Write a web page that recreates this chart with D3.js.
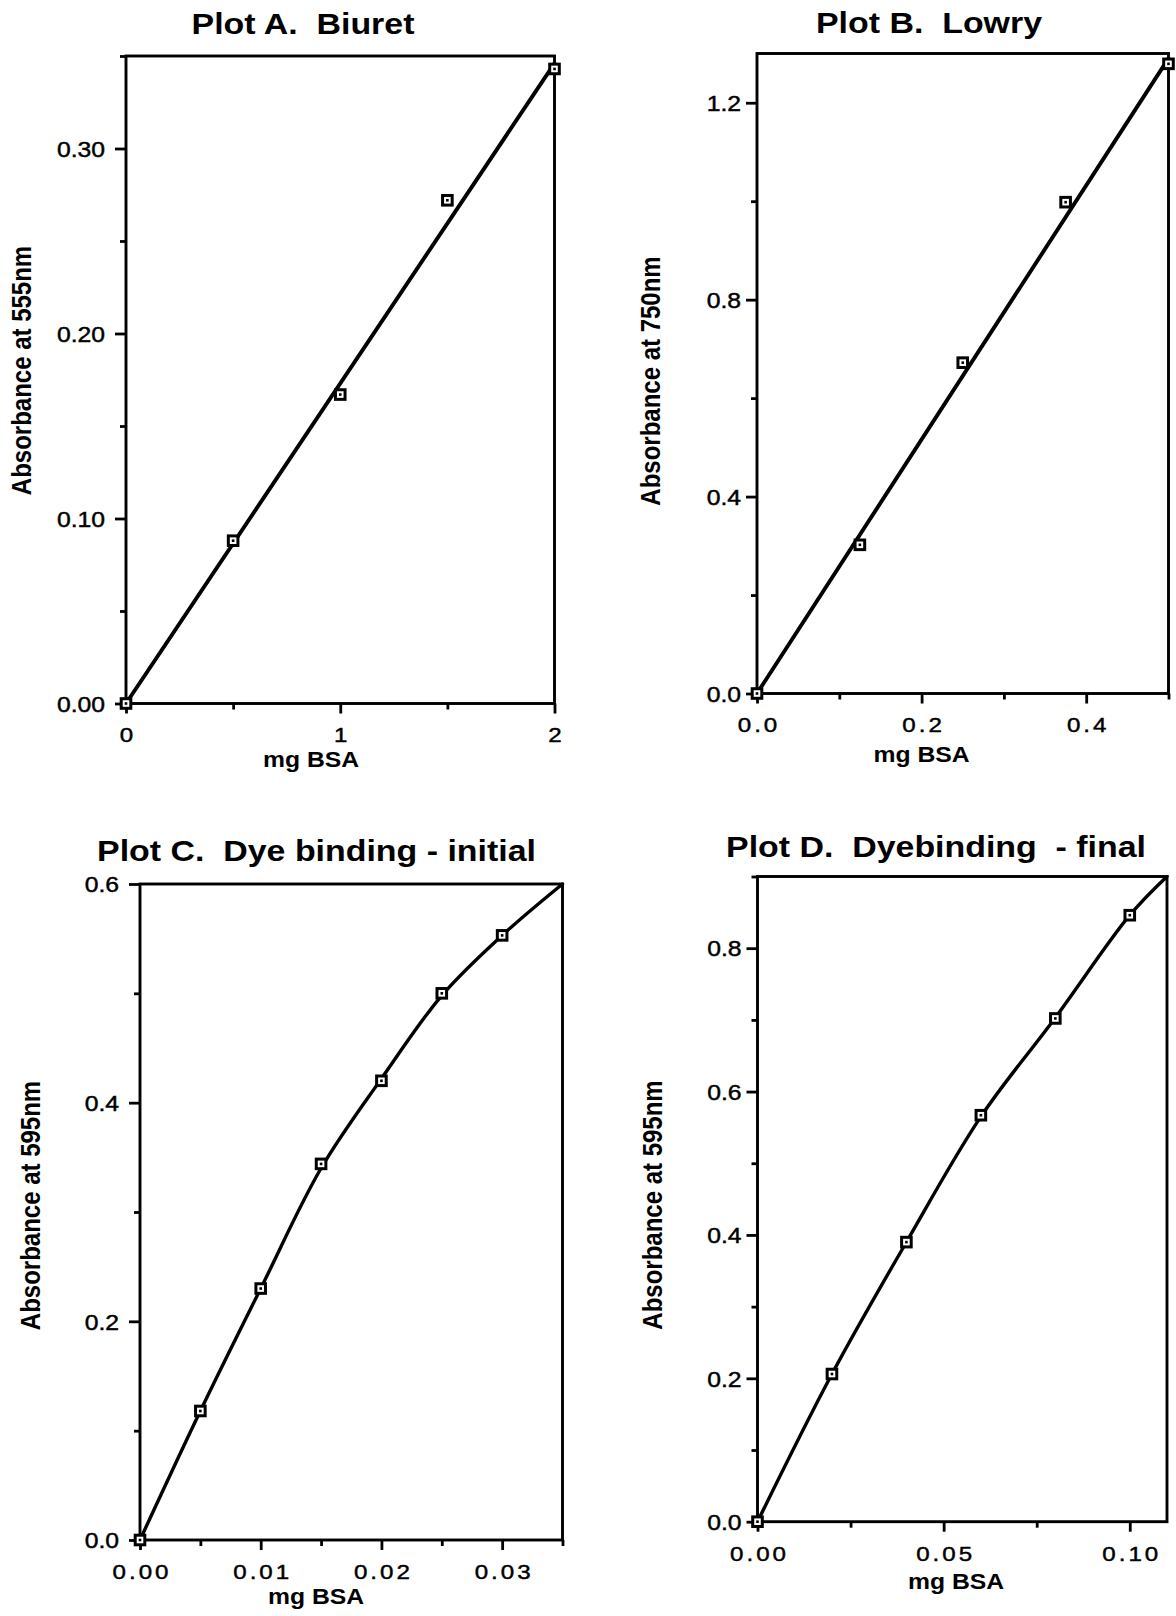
<!DOCTYPE html>
<html>
<head>
<meta charset="utf-8">
<script src="https://cdn.jsdelivr.net/npm/d3@7"></script>
<style>
  html, body { margin: 0; padding: 0; background: #fff; }
  svg { display: block; }
  text { font-family: "Liberation Sans", Arial, Helvetica, sans-serif; fill: #000; white-space: pre; }
  text.ink { stroke: #000; stroke-width: 0.45px; }
</style>
</head>
<body>
<svg id="fig" width="1176" height="1616"></svg>
<script>
// ---- Plot A: Biuret ----
const xDomainA = [0, 2];
const yDomainA = [0, 0.35];
const massA = [0, 0.5, 1.0, 1.5, 2.0];
const absA = [0, 0.088, 0.167, 0.272, 0.343];
const fitMassA = [0, 2.0];
const fitAbsA = [0, 0.346];
const xTicksA = [0, 1, 2];
const xTickLabelsA = ["0", "1", "2"];
const xMinorA = [0.5, 1.5];
const yTicksA = [0, 0.1, 0.2, 0.3];
const yTickLabelsA = ["0.00", "0.10", "0.20", "0.30"];
const yMinorA = [0.05, 0.15, 0.25, 0.35];

// ---- Plot B: Lowry ----
const xDomainB = [0, 0.5];
const yDomainB = [0, 1.3];
const massB = [0, 0.125, 0.25, 0.375, 0.5];
const absB = [0, 0.302, 0.672, 0.998, 1.279];
const fitMassB = [0, 0.5];
const fitAbsB = [0, 1.29];
const xTicksB = [0, 0.2, 0.4];
const xTickLabelsB = ["0.0", "0.2", "0.4"];
const xMinorB = [0.1, 0.3, 0.5];
const yTicksB = [0, 0.4, 0.8, 1.2];
const yTickLabelsB = ["0.0", "0.4", "0.8", "1.2"];
const yMinorB = [0.2, 0.6, 1.0];

// ---- Plot C: Dye binding, initial ----
const xDomainC = [0, 0.035];
const yDomainC = [0, 0.6];
const massC = [0, 0.005, 0.01, 0.015, 0.02, 0.025, 0.03];
const absC = [0, 0.118, 0.230, 0.344, 0.420, 0.500, 0.553];
const fitMassC = [0, 0.005, 0.01, 0.015, 0.02, 0.025, 0.03, 0.035];
const fitAbsC = [0, 0.118, 0.230, 0.340, 0.422, 0.498, 0.553, 0.600];
const xTicksC = [0, 0.01, 0.02, 0.03];
const xTickLabelsC = ["0.00", "0.01", "0.02", "0.03"];
const xMinorC = [0.005, 0.015, 0.025, 0.035];
const yTicksC = [0, 0.2, 0.4, 0.6];
const yTickLabelsC = ["0.0", "0.2", "0.4", "0.6"];
const yMinorC = [0.1, 0.3, 0.5];

// ---- Plot D: Dye binding, final ----
const xDomainD = [0, 0.11];
const yDomainD = [0, 0.9];
const massD = [0, 0.02, 0.04, 0.06, 0.08, 0.10];
const absD = [0, 0.206, 0.390, 0.567, 0.702, 0.846];
const fitMassD = [0, 0.02, 0.04, 0.06, 0.08, 0.10, 0.11];
const fitAbsD = [0, 0.206, 0.390, 0.565, 0.703, 0.846, 0.900];
const xTicksD = [0, 0.05, 0.10];
const xTickLabelsD = ["0.00", "0.05", "0.10"];
const xMinorD = [0.025, 0.075];
const yTicksD = [0, 0.2, 0.4, 0.6, 0.8];
const yTickLabelsD = ["0.0", "0.2", "0.4", "0.6", "0.8"];
const yMinorD = [0.1, 0.3, 0.5, 0.7, 0.9];

const titles = ["Plot A.  Biuret", "Plot B.  Lowry", "Plot C.  Dye binding - initial", "Plot D.  Dyebinding  - final"];
const yTitles = ["Absorbance at 555nm", "Absorbance at 750nm", "Absorbance at 595nm", "Absorbance at 595nm"];
const xTitle = "mg BSA";

// Glyphs in this figure are drawn a little wider than the stock face
const SX = 1.15;

const svg = d3.select("#fig");

const panels = [
  { box: [126, 554.5, 56, 703.5], xDomain: xDomainA, yDomain: yDomainA,
    mass: massA, abs: absA, fitMass: fitMassA, fitAbs: fitAbsA, curved: false,
    xTicks: xTicksA, xTickLabels: xTickLabelsA, xMinor: xMinorA,
    yTicks: yTicksA, yTickLabels: yTickLabelsA, yMinor: yMinorA,
    title: titles[0], titlePos: [303, 34], yTitle: yTitles[0], yTitlePos: [31, 370.5],
    xTitlePos: [311, 767], xLabelDy: 39, xLetter: 0, yGap: 21, lineW: 3.9 },
  { box: [757, 1168.5, 53.5, 693.5], xDomain: xDomainB, yDomain: yDomainB,
    mass: massB, abs: absB, fitMass: fitMassB, fitAbs: fitAbsB, curved: false,
    xTicks: xTicksB, xTickLabels: xTickLabelsB, xMinor: xMinorB,
    yTicks: yTicksB, yTickLabels: yTickLabelsB, yMinor: yMinorB,
    title: titles[1], titlePos: [929, 33], yTitle: yTitles[1], yTitlePos: [660, 381],
    xTitlePos: [921.5, 762], xLabelDy: 39, xLetter: 2.6, yGap: 16, lineW: 3.9 },
  { box: [140, 562.5, 884, 1540], xDomain: xDomainC, yDomain: yDomainC,
    mass: massC, abs: absC, fitMass: fitMassC, fitAbs: fitAbsC, curved: true,
    xTicks: xTicksC, xTickLabels: xTickLabelsC, xMinor: xMinorC,
    yTicks: yTicksC, yTickLabels: yTickLabelsC, yMinor: yMinorC,
    title: titles[2], titlePos: [316.5, 861], yTitle: yTitles[2], yTitlePos: [40, 1205.5],
    xTitlePos: [316, 1604], xLabelDy: 39, xLetter: 2.6, yGap: 21, lineW: 3.4 },
  { box: [757.5, 1167, 876.5, 1521.7], xDomain: xDomainD, yDomain: yDomainD,
    mass: massD, abs: absD, fitMass: fitMassD, fitAbs: fitAbsD, curved: true,
    xTicks: xTicksD, xTickLabels: xTickLabelsD, xMinor: xMinorD,
    yTicks: yTicksD, yTickLabels: yTickLabelsD, yMinor: yMinorD,
    title: titles[3], titlePos: [936, 856.5], yTitle: yTitles[3], yTitlePos: [662, 1205],
    xTitlePos: [956, 1589], xLabelDy: 39, xLetter: 2.6, yGap: 16, lineW: 3.4 }
];

function drawPanel(p) {
  const [left, right, top, bottom] = p.box;
  const g = svg.append("g");
  const x = d3.scaleLinear().domain(p.xDomain).range([left, right]);
  const y = d3.scaleLinear().domain(p.yDomain).range([bottom, top]);

  // fitted line / smooth curve
  const pts = p.fitMass.map((m, i) => [m, p.fitAbs[i]]);
  const line = d3.line()
    .x(d => x(d[0]))
    .y(d => y(d[1]))
    .curve(p.curved ? d3.curveCatmullRom.alpha(0.5) : d3.curveLinear);
  g.append("path")
    .attr("d", line(pts))
    .attr("fill", "none")
    .attr("stroke", "#000")
    .attr("stroke-width", p.lineW)
    .attr("stroke-linejoin", "round")
    .attr("stroke-linecap", "round");

  // frame
  g.append("rect")
    .attr("x", left).attr("y", top)
    .attr("width", right - left).attr("height", bottom - top)
    .attr("fill", "none").attr("stroke", "#000").attr("stroke-width", 2.9);

  const tidy = sel => {
    sel.select(".domain").remove();
    sel.attr("font-size", null).attr("font-family", null);
    sel.selectAll(".tick line").attr("stroke-width", 2.8);
  };

  // y axis: minor then major ticks
  g.append("g").attr("transform", `translate(${left},0)`)
    .call(d3.axisLeft(y).tickValues(p.yMinor).tickSize(6).tickFormat(""))
    .call(tidy);
  const ya = g.append("g").attr("transform", `translate(${left},0)`)
    .call(d3.axisLeft(y).tickValues(p.yTicks).tickSize(11)
      .tickFormat((d, i) => p.yTickLabels[i]))
    .call(tidy);
  ya.selectAll(".tick text")
    .attr("class", "ink")
    .attr("font-size", 21.5)
    .attr("x", -p.yGap / SX)
    .attr("dy", "0.36em")
    .attr("transform", `scale(${SX},1)`);

  // x axis: minor then major ticks
  g.append("g").attr("transform", `translate(0,${bottom})`)
    .call(d3.axisBottom(x).tickValues(p.xMinor).tickSize(6).tickFormat(""))
    .call(tidy);
  const xa = g.append("g").attr("transform", `translate(0,${bottom})`)
    .call(d3.axisBottom(x).tickValues(p.xTicks).tickSize(10)
      .tickFormat((d, i) => p.xTickLabels[i]))
    .call(tidy);
  xa.selectAll(".tick text")
    .attr("class", "ink")
    .attr("font-size", 21)
    .attr("y", p.xLabelDy)
    .attr("dy", 0)
    .attr("x", p.xLetter / 2)
    .attr("letter-spacing", p.xLetter)
    .attr("transform", `scale(${SX},1)`);

  // data markers: open square with a centre dot
  const mk = g.append("g").selectAll("g")
    .data(p.mass.map((m, i) => [m, p.abs[i]]))
    .join("g")
    .attr("transform", d => `translate(${x(d[0])},${y(d[1])})`);
  mk.append("rect")
    .attr("x", -4.8).attr("y", -4.8).attr("width", 9.6).attr("height", 9.6)
    .attr("fill", "#fff").attr("stroke", "#000").attr("stroke-width", 3);
  mk.append("rect")
    .attr("x", -1.3).attr("y", -1.3).attr("width", 2.6).attr("height", 2.6)
    .attr("fill", "#000");

  // titles
  g.append("text")
    .attr("transform", `translate(${p.titlePos[0]},${p.titlePos[1]}) scale(${SX},1)`)
    .attr("text-anchor", "middle")
    .attr("font-size", 29.5)
    .attr("font-weight", "bold")
    .text(p.title);

  g.append("text")
    .attr("transform", `translate(${p.yTitlePos[0]},${p.yTitlePos[1]}) scale(1.12,1) rotate(-90)`)
    .attr("text-anchor", "middle")
    .attr("font-size", 24)
    .attr("font-weight", "bold")
    .text(p.yTitle);

  g.append("text")
    .attr("transform", `translate(${p.xTitlePos[0]},${p.xTitlePos[1]}) scale(${SX},1)`)
    .attr("text-anchor", "middle")
    .attr("font-size", 21.5)
    .attr("font-weight", "bold")
    .text(xTitle);
}

panels.forEach(drawPanel);
</script>
</body>
</html>
